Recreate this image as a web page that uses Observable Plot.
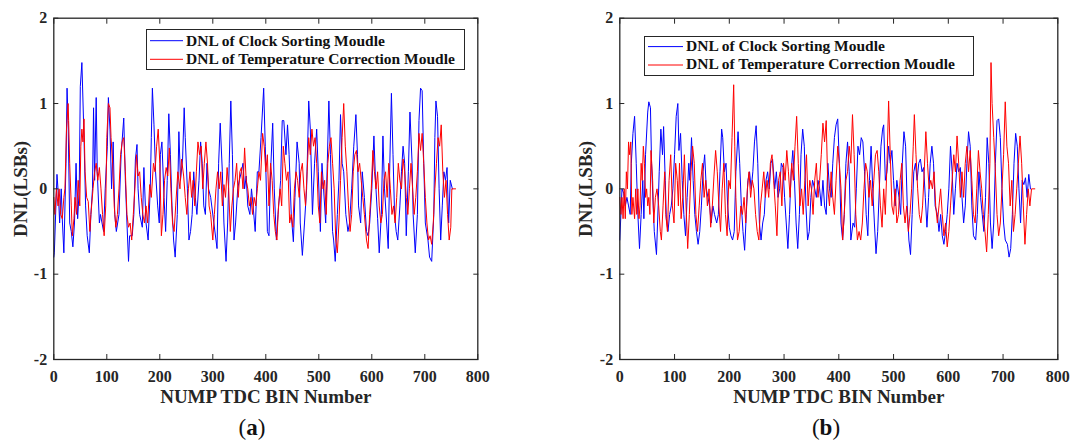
<!DOCTYPE html>
<html><head><meta charset="utf-8">
<script src="https://cdn.jsdelivr.net/npm/d3@7"></script>
<script src="https://cdn.jsdelivr.net/npm/@observablehq/plot@0.6"></script>
<style>
body{margin:0;background:#fff;}
#wrap{position:relative;width:1072px;height:443px;overflow:hidden;font-family:"Liberation Serif","Times New Roman",serif;}
.panel{position:absolute;top:0;}
.legend{position:absolute;background:#fff;border:1.3px solid #262626;box-sizing:border-box;}
.cap{position:absolute;text-align:center;font-size:23px;line-height:23px;color:#111;font-family:"Liberation Serif",serif;}
</style></head><body><div id="wrap"></div><script>
// ---- data ----
const xTicks = [0,100,200,300,400,500,600,700,800];
const yTicks = [-2,-1,0,1,2];
const seriesNames = ["DNL of Clock Sorting Moudle","DNL of Temperature Correction Moudle"];
const seriesColors = ["#0000ff","#ff0000"];
const xLabel = "NUMP TDC BIN Number";
const yLabel = "DNL(LSBs)";
const panelNames = ["a","b"];

// panel (a): clock sorting [bin, DNL]
const aBlue = [[0,-0.8],[1,-0.75],[6,0.17],[9,-0.1],[11,-0.4],[14,0.0],[16,-0.35],[19,-0.75],[23,0.3],[25,1.18],[27,0.8],[30,-0.4],[33,-0.5],[36,-0.68],[39,-0.4],[42,0.3],[45,-0.35],[48,0.0],[50,1.2],[53,1.48],[57,0.6],[60,-0.2],[63,-0.55],[67,-0.75],[70,-0.3],[73,0.0],[75,0.95],[77,0.1],[80,1.07],[82,0.2],[86,-0.4],[88,-0.3],[91,-0.4],[94,-0.5],[97,0.0],[101,0.5],[103,1.07],[106,0.7],[109,0.0],[112,0.55],[115,-0.3],[118,-0.5],[123,-0.3],[127,0.4],[132,0.83],[135,0.1],[138,-0.4],[141,-0.85],[143,-0.55],[148,-0.55],[151,-0.3],[154,0.35],[157,0.52],[159,0.0],[162,-0.3],[167,-0.45],[170,0.25],[174,-0.4],[178,-0.6],[182,0.0],[184,0.6],[186,1.18],[189,0.75],[192,0.2],[196,-0.2],[199,-0.4],[201,0.4],[204,0.55],[208,-0.1],[211,-0.5],[214,0.1],[217,0.88],[220,0.4],[223,-0.2],[226,-0.6],[229,-0.8],[233,-0.3],[236,0.67],[239,0.1],[243,0.35],[246,0.95],[248,0.6],[252,0.0],[255,-0.6],[258,-0.5],[261,-0.3],[264,0.2],[267,-0.1],[270,-0.3],[274,0.1],[277,0.55],[280,0.3],[283,-0.2],[286,-0.3],[289,0.3],[292,0.0],[296,-0.1],[302,-0.4],[308,-0.7],[311,0.3],[314,0.77],[318,0.2],[321,-0.4],[325,-0.85],[328,-0.4],[331,0.3],[334,1.03],[337,0.4],[340,-0.6],[343,-0.4],[347,0.0],[350,0.1],[354,0.2],[357,0.3],[360,0.0],[363,0.15],[366,-0.2],[370,-0.3],[373,0.0],[376,-0.2],[380,-0.5],[384,0.2],[387,0.2],[391,0.6],[396,1.18],[399,0.5],[403,-0.5],[406,-0.55],[409,0.2],[413,0.77],[416,0.0],[420,-0.6],[423,-0.3],[428,0.1],[431,0.8],[434,0.8],[438,0.4],[441,0.75],[444,0.4],[448,-0.3],[452,-0.62],[455,-0.1],[459,0.55],[463,0.3],[465,-0.4],[469,-0.78],[473,-0.4],[477,0.0],[481,1.03],[484,0.7],[488,-0.3],[492,0.3],[496,0.7],[499,0.2],[503,-0.5],[506,0.3],[509,0.0],[513,-0.4],[516,0.3],[519,1.03],[522,0.4],[526,-0.5],[528,-0.6],[531,-0.85],[535,-0.3],[538,0.1],[541,0.87],[544,0.3],[547,0.2],[551,-0.3],[555,-0.5],[558,-0.4],[562,0.0],[566,0.5],[570,0.87],[573,0.4],[575,-0.2],[579,-0.4],[582,0.2],[586,-0.1],[590,-0.5],[593,-0.55],[596,-0.4],[600,0.0],[604,0.62],[607,0.1],[611,-0.35],[614,-0.75],[618,-0.3],[621,0.62],[624,0.0],[628,-0.4],[631,-0.7],[634,0.3],[637,1.12],[640,0.4],[643,-0.3],[646,-0.5],[649,-0.6],[653,-0.2],[656,0.2],[659,0.5],[662,0.3],[665,-0.55],[669,0.2],[672,0.9],[676,0.3],[678,-0.3],[682,-0.75],[686,-0.3],[689,0.8],[692,1.18],[695,1.15],[698,0.3],[701,-0.4],[706,-0.6],[709,-0.8],[713,-0.85],[717,-0.3],[719,0.6],[721,1.03],[724,0.85],[727,0.0],[730,-0.6],[733,-0.2],[736,0.2],[739,0.1],[742,0.25],[745,-0.4],[748,0.1],[752,0.0]];
// panel (a): temperature correction
const aRed = [[0,-0.1],[2,-0.3],[5,0.0],[8,-0.2],[10,0.0],[13,-0.3],[16,-0.35],[19,-0.1],[21,0.0],[24,0.7],[27,1.0],[28,0.8],[30,0.3],[33,-0.2],[35,-0.55],[38,-0.35],[40,-0.1],[43,-0.3],[46,0.1],[49,-0.2],[51,0.5],[53,0.7],[55,0.55],[57,0.82],[59,0.2],[62,-0.1],[65,-0.15],[68,-0.5],[70,-0.3],[74,0.0],[77,0.2],[80,0.3],[83,0.1],[86,0.25],[89,0.0],[92,-0.3],[95,-0.55],[98,-0.2],[100,0.6],[103,1.0],[106,0.95],[108,0.6],[111,0.3],[114,-0.2],[117,-0.45],[120,-0.3],[123,0.0],[126,0.4],[129,0.55],[132,0.6],[135,0.2],[138,-0.3],[141,-0.45],[144,-0.4],[147,-0.6],[150,-0.3],[153,0.0],[156,0.4],[159,0.15],[162,0.2],[165,-0.1],[168,-0.3],[171,-0.4],[174,-0.2],[177,-0.4],[181,0.05],[184,-0.1],[188,0.3],[191,0.2],[194,0.5],[197,0.7],[200,0.3],[203,-0.55],[206,-0.3],[209,0.1],[212,0.25],[215,0.15],[218,0.48],[221,0.0],[224,-0.4],[227,-0.5],[230,-0.2],[234,0.2],[238,0.0],[241,0.35],[245,0.15],[248,-0.1],[251,-0.3],[254,0.0],[257,0.2],[260,-0.1],[263,0.1],[266,-0.2],[269,0.2],[272,0.55],[275,0.4],[278,0.5],[281,0.0],[284,0.3],[287,0.55],[290,0.3],[293,-0.2],[296,-0.3],[300,-0.6],[303,-0.3],[306,0.0],[309,0.2],[312,0.0],[315,0.2],[318,-0.2],[321,0.05],[324,-0.1],[327,0.25],[330,0.0],[333,-0.5],[336,-0.2],[339,0.0],[342,0.1],[345,0.3],[348,-0.1],[351,0.2],[354,0.25],[357,0.0],[360,0.48],[363,0.1],[366,0.0],[369,-0.2],[372,-0.1],[375,-0.3],[378,-0.1],[381,-0.2],[384,0.0],[387,0.2],[390,0.1],[394,0.65],[397,0.5],[400,0.2],[403,0.4],[406,-0.2],[409,0.3],[412,0.1],[415,-0.3],[418,-0.5],[421,-0.6],[424,-0.2],[427,0.0],[430,-0.2],[433,0.5],[436,0.3],[439,0.1],[442,0.2],[445,-0.4],[448,-0.3],[451,-0.45],[454,0.0],[457,0.2],[460,0.1],[463,-0.1],[466,0.2],[469,0.3],[472,0.0],[475,-0.2],[478,0.2],[481,0.6],[484,0.4],[487,0.7],[490,0.5],[493,0.6],[496,0.3],[499,-0.2],[502,-0.4],[505,0.2],[508,0.0],[511,0.1],[514,-0.3],[517,0.3],[520,0.5],[523,0.6],[526,0.3],[529,0.0],[532,-0.6],[535,-0.75],[538,-0.4],[541,0.1],[544,0.6],[547,1.0],[550,0.5],[553,0.2],[556,-0.2],[559,-0.5],[562,-0.3],[565,0.2],[568,0.4],[571,0.45],[574,0.2],[577,0.3],[580,0.1],[583,-0.1],[586,-0.3],[590,-0.6],[593,-0.7],[596,-0.3],[599,0.0],[602,0.45],[605,0.2],[608,0.0],[611,0.2],[614,-0.2],[617,-0.4],[620,-0.3],[623,0.1],[626,0.2],[629,-0.1],[632,0.3],[635,0.0],[638,-0.3],[641,-0.2],[644,-0.4],[647,-0.1],[650,0.3],[653,0.1],[656,0.0],[659,0.35],[662,0.2],[665,-0.1],[668,-0.3],[671,0.0],[674,0.3],[677,0.0],[680,-0.3],[683,-0.1],[686,0.2],[689,0.65],[692,0.45],[695,0.65],[698,0.3],[701,-0.1],[704,-0.4],[707,-0.6],[710,-0.55],[713,-0.65],[716,-0.4],[719,0.0],[722,0.3],[725,0.6],[728,0.5],[731,0.75],[734,0.2],[737,-0.1],[740,0.1],[743,-0.3],[746,-0.6],[749,-0.45],[751,0.0],[758,0.0]];
// panel (b): clock sorting
const bBlue = [[0,-0.6],[4,0.0],[7,-0.05],[10,-0.2],[13,-0.1],[16,-0.2],[19,-0.3],[21,0.3],[24,0.65],[27,0.85],[30,0.3],[33,-0.3],[36,-0.7],[39,-0.3],[42,0.1],[44,-0.35],[47,0.4],[51,0.9],[53,1.02],[56,0.95],[58,0.3],[61,-0.2],[63,-0.5],[67,-0.77],[70,-0.2],[72,0.2],[75,0.7],[78,0.4],[80,0.73],[83,0.1],[85,-0.35],[88,-0.5],[91,-0.3],[94,-0.2],[97,0.0],[100,0.4],[103,0.85],[106,1.0],[108,0.45],[111,0.65],[114,0.1],[117,-0.3],[120,-0.55],[123,-0.1],[126,0.3],[128,0.1],[131,0.6],[134,0.1],[137,-0.3],[140,-0.5],[143,-0.65],[146,-0.5],[149,-0.2],[152,0.2],[155,0.4],[158,0.0],[161,-0.1],[164,-0.2],[167,-0.4],[170,-0.2],[173,-0.3],[177,-0.4],[180,-0.3],[183,0.2],[186,0.7],[188,0.6],[191,0.2],[194,0.3],[197,-0.2],[200,-0.45],[203,-0.55],[206,-0.6],[209,-0.5],[212,0.2],[216,0.67],[219,0.3],[222,-0.2],[225,-0.5],[228,-0.72],[231,-0.3],[234,0.1],[237,0.2],[240,0.0],[243,0.2],[246,0.55],[249,0.74],[252,0.3],[255,-0.4],[258,-0.6],[261,-0.4],[264,-0.3],[267,0.1],[270,0.2],[273,0.0],[276,0.3],[279,0.35],[283,0.0],[286,0.2],[289,-0.1],[292,0.0],[295,0.3],[298,0.25],[301,-0.1],[304,-0.4],[307,-0.7],[310,-0.3],[313,0.2],[316,0.45],[319,0.1],[322,-0.4],[325,-0.7],[328,-0.3],[331,0.4],[334,0.7],[337,0.5],[340,-0.2],[343,-0.6],[346,-0.5],[349,-0.1],[352,0.1],[356,0.0],[359,-0.1],[362,0.1],[365,0.0],[368,-0.2],[371,0.1],[374,-0.2],[377,-0.3],[380,0.3],[383,0.0],[386,-0.1],[389,0.3],[392,0.6],[395,0.75],[398,0.82],[401,0.3],[404,-0.4],[407,-0.6],[410,-0.3],[413,0.3],[416,0.55],[419,0.2],[422,-0.6],[426,-0.4],[429,-0.45],[432,0.0],[435,0.5],[438,0.4],[441,0.6],[444,0.55],[447,0.2],[450,-0.3],[453,-0.55],[456,0.1],[459,0.5],[462,0.0],[465,-0.4],[468,-0.76],[471,-0.5],[474,0.0],[477,0.5],[480,0.7],[482,0.75],[485,0.1],[488,0.2],[491,0.5],[494,0.3],[497,0.45],[500,0.1],[503,-0.2],[506,0.1],[510,-0.1],[513,-0.3],[516,0.3],[519,0.67],[522,0.5],[525,-0.2],[528,-0.6],[531,-0.77],[534,-0.3],[537,0.2],[540,0.3],[543,0.1],[546,0.3],[549,0.35],[552,0.2],[555,0.25],[558,-0.1],[561,-0.45],[564,-0.1],[567,0.3],[570,0.5],[573,0.3],[576,-0.2],[580,-0.3],[583,-0.5],[586,-0.3],[589,-0.55],[592,-0.65],[595,-0.5],[598,-0.3],[601,0.0],[604,0.5],[607,0.2],[610,-0.3],[613,0.0],[616,0.3],[619,0.2],[622,0.25],[625,-0.1],[628,-0.4],[631,-0.2],[634,0.3],[637,0.67],[640,0.5],[643,-0.2],[646,-0.55],[650,-0.6],[653,-0.3],[656,0.2],[659,-0.1],[662,-0.3],[665,-0.5],[668,-0.1],[671,0.6],[674,0.3],[677,-0.4],[680,-0.7],[683,-0.4],[686,0.3],[689,0.8],[692,0.82],[695,0.6],[698,0.0],[701,-0.4],[704,-0.6],[708,-0.65],[711,-0.8],[714,-0.7],[717,-0.3],[720,0.3],[723,0.65],[726,0.5],[729,0.0],[732,-0.4],[735,0.1],[738,0.05],[741,0.13],[744,-0.1],[747,0.17],[750,0.0]];
// panel (b): temperature correction
const bRed = [[0,-0.1],[2,-0.3],[4,-0.1],[6,-0.35],[8,0.0],[10,-0.35],[12,0.2],[14,0.0],[16,0.55],[18,0.4],[20,0.55],[22,-0.3],[24,-0.1],[27,-0.35],[29,0.0],[31,-0.3],[33,0.0],[35,-0.35],[37,-0.2],[39,0.3],[41,0.1],[43,0.5],[45,0.3],[47,-0.1],[49,0.0],[51,-0.2],[53,-0.1],[55,-0.3],[57,0.45],[60,0.1],[62,-0.4],[65,-0.1],[68,0.0],[71,-0.2],[74,-0.5],[76,-0.6],[79,-0.2],[82,0.2],[84,-0.3],[87,-0.5],[90,0.1],[93,0.4],[96,-0.2],[99,-0.4],[102,0.3],[105,0.1],[107,-0.2],[109,0.3],[112,-0.35],[115,-0.1],[118,0.4],[121,-0.2],[124,-0.7],[127,-0.3],[130,0.2],[133,0.5],[136,0.3],[139,-0.3],[142,-0.5],[145,-0.2],[148,0.1],[151,0.3],[154,-0.1],[157,0.1],[160,-0.2],[163,0.0],[166,-0.45],[169,-0.2],[172,0.15],[175,0.45],[178,0.2],[181,-0.2],[184,-0.5],[187,0.0],[190,0.3],[193,-0.3],[196,-0.55],[199,0.1],[202,0.0],[205,0.6],[208,1.22],[210,0.5],[212,-0.1],[215,-0.6],[218,-0.5],[221,-0.2],[224,-0.3],[227,-0.1],[230,-0.4],[233,0.0],[236,0.2],[239,-0.1],[242,0.1],[245,0.0],[248,-0.3],[251,-0.5],[254,-0.6],[257,-0.2],[260,0.0],[263,0.2],[266,-0.1],[269,0.1],[272,-0.1],[275,0.3],[278,0.4],[281,0.1],[284,-0.2],[287,-0.55],[290,0.1],[293,0.2],[296,-0.2],[299,0.3],[302,0.1],[305,0.45],[308,0.2],[311,-0.1],[314,0.3],[317,0.1],[320,0.5],[323,0.85],[326,0.3],[329,-0.2],[332,0.0],[335,-0.3],[338,0.1],[341,0.4],[344,-0.2],[347,0.1],[350,0.0],[353,-0.3],[356,0.1],[359,0.3],[362,-0.1],[365,0.1],[368,0.4],[371,0.77],[374,0.55],[377,0.8],[380,0.0],[383,-0.2],[386,0.2],[389,-0.1],[392,-0.3],[395,0.1],[398,0.5],[401,0.3],[404,0.0],[407,-0.6],[410,-0.3],[413,0.1],[416,0.2],[419,0.5],[422,0.3],[425,0.87],[428,0.4],[431,-0.3],[434,-0.6],[437,-0.5],[440,-0.6],[443,-0.4],[446,0.0],[449,0.3],[452,0.2],[455,-0.1],[458,0.1],[461,-0.2],[464,0.1],[467,0.4],[470,0.45],[473,0.2],[476,-0.2],[479,-0.45],[482,0.0],[485,-0.3],[488,0.3],[491,1.03],[494,0.4],[497,-0.2],[500,-0.3],[503,0.0],[506,-0.4],[509,-0.3],[512,0.1],[515,0.3],[518,-0.2],[521,-0.4],[524,-0.2],[527,-0.5],[530,-0.3],[533,0.0],[536,0.5],[538,0.87],[541,0.4],[544,0.0],[547,-0.3],[550,-0.4],[553,-0.2],[556,0.2],[559,0.67],[562,0.3],[565,0.0],[568,0.1],[571,0.0],[574,0.2],[577,-0.2],[580,-0.4],[583,-0.2],[586,0.0],[589,-0.3],[592,-0.55],[595,-0.4],[598,-0.68],[601,-0.5],[604,-0.2],[607,0.1],[610,0.4],[613,0.2],[616,0.62],[619,0.3],[622,-0.1],[625,0.2],[628,-0.1],[631,0.3],[634,0.5],[637,0.2],[640,0.45],[643,0.1],[646,-0.3],[649,-0.4],[652,0.0],[655,0.45],[658,0.2],[661,0.0],[664,-0.3],[667,-0.5],[670,-0.74],[673,-0.3],[676,0.3],[678,1.48],[680,1.0],[683,0.6],[686,0.2],[689,-0.3],[692,-0.55],[695,-0.4],[698,0.0],[701,0.4],[704,1.02],[707,0.5],[710,0.3],[713,-0.2],[716,0.1],[719,-0.5],[722,-0.3],[725,0.0],[728,0.3],[731,0.62],[734,0.3],[737,-0.2],[740,-0.65],[743,-0.3],[746,0.0],[749,-0.2],[752,0.0],[758,0.0]];

// ---- layout ----
const panels = [
  {name: panelNames[0], blue: aBlue, red: aRed, left: 0, width: 565, mL: 53.3, mR: 87.7, ylabDx: -33.3,
   legend: {left:146, top:29, w:319, h:41, lx1:4, lx2:37, ly:[11.7,30.3], tx:40, ty:[16.6,35.0]}, cap: 252},
  {name: panelNames[1], blue: bBlue, red: bRed, left: 565, width: 507, mL: 54.3, mR: 14.7, ylabDx: -34.3,
   legend: {left:644, top:35.7, w:330, h:40.6, lx1:4, lx2:39, ly:[11.6,30.0], tx:42, ty:[15.6,34.2]}, cap: 826}
];

const wrap = document.getElementById("wrap");
const font = '"Liberation Serif","Times New Roman",serif';
const fmt = d => String(d);
for (const p of panels) {
  const chart = Plot.plot({
    width: p.width, height: 443,
    marginLeft: p.mL, marginRight: p.mR, marginTop: 17.7, marginBottom: 84,
    x: {domain: [0, 800]},
    y: {domain: [-2, 2]},
    style: {fontFamily: font, fontSize: "16px", fontWeight: "bold", color: "#262626", background: "transparent", overflow: "visible", maxWidth: "none"},
    marks: [
      Plot.line(p.blue, {x: d => d[0], y: d => d[1], stroke: seriesColors[0], strokeWidth: 1}),
      Plot.line(p.red, {x: d => d[0], y: d => d[1], stroke: seriesColors[1], strokeWidth: 1}),
      Plot.frame({stroke: "#262626", strokeWidth: 1.3}),
      Plot.axisX({anchor: "bottom", ticks: xTicks, tickSize: -5, tickPadding: 16, tickFormat: fmt, label: null, stroke: "#262626"}),
      Plot.axisX({anchor: "top", ticks: xTicks, tickSize: -5, tickFormat: () => "", label: null, stroke: "#262626"}),
      Plot.axisY({anchor: "left", ticks: yTicks, tickSize: -5, tickPadding: 11.6, tickFormat: fmt, label: null, stroke: "#262626"}),
      Plot.axisY({anchor: "right", ticks: yTicks, tickSize: -5, tickFormat: () => "", label: null, stroke: "#262626"}),
      Plot.text([xLabel], {text: d => d, frameAnchor: "bottom", dy: 43, textAnchor: "middle", fontSize: 19, fontWeight: "bold", fill: "#262626"}),
      Plot.text([yLabel], {text: d => d, frameAnchor: "left", dx: p.ylabDx, rotate: -90, textAnchor: "middle", lineAnchor: "middle", fontSize: 19, fontWeight: "bold", fill: "#262626"})
    ]
  });
  const holder = document.createElement("div");
  holder.className = "panel";
  holder.style.left = p.left + "px";
  holder.appendChild(chart);
  wrap.appendChild(holder);

  const L = p.legend;
  const lg = document.createElement("div");
  lg.className = "legend";
  Object.assign(lg.style, {left: L.left + "px", top: L.top + "px", width: L.w + "px", height: L.h + "px"});
  let svg = `<svg width="${L.w}" height="${L.h}" style="position:absolute;left:-1.3px;top:-1.3px;overflow:visible" font-family='${font}' font-size="15.5" font-weight="bold" fill="#111">`;
  seriesNames.forEach((n, i) => {
    svg += `<line x1="${L.lx1}" x2="${L.lx2}" y1="${L.ly[i]}" y2="${L.ly[i]}" stroke="${seriesColors[i]}" stroke-width="1"/>`;
    svg += `<text x="${L.tx}" y="${L.ty[i]}">${n}</text>`;
  });
  svg += `</svg>`;
  lg.innerHTML = svg;
  wrap.appendChild(lg);

  const cap = document.createElement("div");
  cap.className = "cap";
  Object.assign(cap.style, {left: (p.cap - 60) + "px", width: "120px", top: "415.7px"});
  cap.innerHTML = `(<b>${p.name}</b>)`;
  wrap.appendChild(cap);
}
</script></body></html>
